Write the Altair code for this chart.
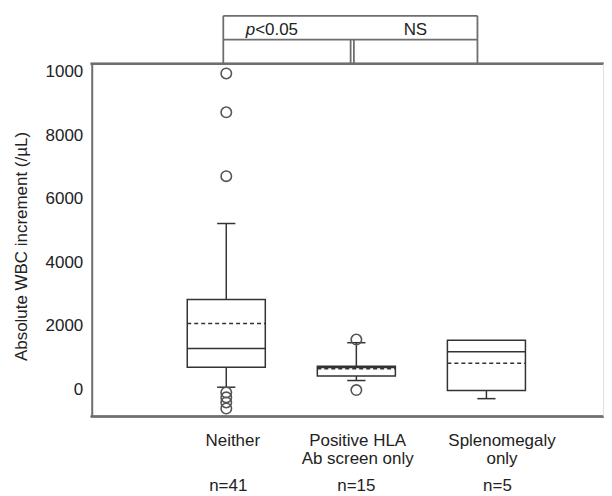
import altair as alt
import pandas as pd

# ---- data ----
groups = ["Neither", "Positive HLA Ab screen only", "Splenomegaly only"]
positions = [1, 2, 3]
q1 = [700, 420, -30]
median = [1290, 690, 1185]
mean = [2075, 650, 820]
q3 = [2830, 730, 1550]
whisker_low = [70, 280, -290]
whisker_high = [5220, 1470, 1550]

outlier_pos = [1, 1, 1, 1, 1, 1, 1, 2, 2]
outlier_val = [9940, 8720, 6710, -95, -250, -410, -600, 1570, -20]

label_line1 = ["Neither", "Positive HLA", "Splenomegaly"]
label_line2 = ["", "Ab screen only", "only"]
n_labels = ["n=41", "n=15", "n=5"]

y_ticks = [0, 2000, 4000, 6000, 8000, 10000]
comparisons = ["p<0.05", "NS"]

# ---- styling / layout constants ----
W, H = 514, 354
FONT = "Liberation Sans"
FS = 17
INK = "#333333"
FRAME = "#6e6e6e"
X_DOMAIN = [-0.0345, 3.904]
Y_DOMAIN = [-850, 10250]
HALF = 0.30      # half box width (x units)
CAP = 0.07       # half cap width (x units)

boxes = pd.DataFrame({
    "group": groups, "pos": positions, "q1": q1, "median": median,
    "mean": mean, "q3": q3, "lo": whisker_low, "hi": whisker_high,
})
outliers = pd.DataFrame({"pos": outlier_pos, "value": outlier_val})
labels = pd.DataFrame({
    "pos": positions, "l1": label_line1, "l2": label_line2, "n": n_labels,
    "dx1": [0.05, 0.01, 0.12], "dxn": [0.015, 0.0, 0.085],
})

xs = alt.Scale(domain=X_DOMAIN, nice=False, zero=False)
ys = alt.Scale(domain=Y_DOMAIN, nice=False, zero=False)

base = alt.Chart(boxes).transform_calculate(
    left=f"datum.pos - {HALF}", right=f"datum.pos + {HALF}",
    cl=f"datum.pos - {CAP}", cr=f"datum.pos + {CAP}",
)

yaxis = alt.Axis(
    values=y_ticks, format="d",
    labelExpr="datum.value == 10000 ? '1000' : datum.label",
    ticks=False, grid=False, domain=True, domainColor=FRAME, domainWidth=2,
    labelFont=FONT, labelFontSize=FS, labelColor="#222", labelPadding=9,
    title="Absolute WBC increment (/\u00b5L)", titleFont=FONT, titleFontSize=FS,
    titleFontWeight="normal", titleColor="#222", titleX=-70, titleY=183,
    titleAngle=-90, titleAlign="center", titleBaseline="middle",
)

whisk = base.mark_rule(color=INK, strokeWidth=1.5).encode(
    x=alt.X("pos:Q", scale=xs, axis=None),
    y=alt.Y("lo:Q", scale=ys, axis=yaxis), y2="hi:Q",
)
box = base.mark_rect(fill="white", stroke=INK, strokeWidth=1.5).encode(
    x=alt.X("left:Q", scale=xs), x2="right:Q",
    y=alt.Y("q1:Q", scale=ys), y2="q3:Q",
)
med = base.mark_rule(color=INK, strokeWidth=1.5).encode(
    x=alt.X("left:Q", scale=xs), x2="right:Q", y=alt.Y("median:Q", scale=ys),
)
mn = base.mark_rule(color=INK, strokeWidth=1.5, strokeDash=[4, 3]).encode(
    x=alt.X("left:Q", scale=xs), x2="right:Q", y=alt.Y("mean:Q", scale=ys),
)
cap_lo = base.mark_rule(color=INK, strokeWidth=1.5).encode(
    x=alt.X("cl:Q", scale=xs), x2="cr:Q", y=alt.Y("lo:Q", scale=ys),
)
cap_hi = base.transform_filter("datum.hi > datum.q3").mark_rule(color=INK, strokeWidth=1.5).encode(
    x=alt.X("cl:Q", scale=xs), x2="cr:Q", y=alt.Y("hi:Q", scale=ys),
)
pts = alt.Chart(outliers).mark_point(
    shape="circle", filled=False, size=110, stroke="#555", strokeWidth=1.6, opacity=1
).encode(x=alt.X("pos:Q", scale=xs), y=alt.Y("value:Q", scale=ys))

# frame lines (top, bottom, faint right)
frame_top = alt.Chart(boxes).mark_rule(color=FRAME, strokeWidth=2).encode(
    x=alt.value(-1), x2=alt.value(W + 8), y=alt.value(0))
frame_bot = alt.Chart(boxes).mark_rule(color=FRAME, strokeWidth=2).encode(
    x=alt.value(-1), x2=alt.value(W + 8), y=alt.value(H))
frame_right = alt.Chart(boxes).mark_rule(color="#dddddd", strokeWidth=1).encode(
    x=alt.value(W), y=alt.value(0), y2=alt.value(H))

# x labels
lab_kw = dict(font=FONT, fontSize=FS, color="#222", align="center", baseline="middle")
lab1 = alt.Chart(labels).transform_calculate(lx="datum.pos + datum.dx1").mark_text(**lab_kw).encode(
    x=alt.X("lx:Q", scale=xs), y=alt.value(378.5), text="l1:N")
lab2 = alt.Chart(labels).transform_calculate(lx="datum.pos + datum.dx1").mark_text(**lab_kw).encode(
    x=alt.X("lx:Q", scale=xs), y=alt.value(397), text="l2:N")
labn = alt.Chart(labels).transform_calculate(lx="datum.pos + datum.dxn").mark_text(**lab_kw).encode(
    x=alt.X("lx:Q", scale=xs), y=alt.value(424), text="n:N")

# significance brackets
br_v = pd.DataFrame({"bx": [0.977, 2.931]})
br_mid = pd.DataFrame({"bx": [1.956, 1.981]})
br_h = pd.DataFrame({"a": [0.977], "b": [2.931]})
bk = dict(color=FRAME, strokeWidth=1.8)
brk_v = alt.Chart(br_v).mark_rule(**bk).encode(
    x=alt.X("bx:Q", scale=xs), y=alt.value(-48), y2=alt.value(0))
brk_mid = alt.Chart(br_mid).mark_rule(**bk).encode(
    x=alt.X("bx:Q", scale=xs), y=alt.value(-24), y2=alt.value(0))
brk_h1 = alt.Chart(br_h).mark_rule(**bk).encode(
    x=alt.X("a:Q", scale=xs), x2="b:Q", y=alt.value(-48))
brk_h2 = alt.Chart(br_h).mark_rule(**bk).encode(
    x=alt.X("a:Q", scale=xs), x2="b:Q", y=alt.value(-24))

cmp = pd.DataFrame({"tx": [1.222, 2.454], "t": comparisons})
p_it = alt.Chart(cmp.iloc[[0]]).mark_text(
    font=FONT, fontSize=FS, fontStyle="italic", color="#222", align="right", baseline="middle"
).encode(x=alt.X("tx:Q", scale=xs), y=alt.value(-34), text=alt.value("p"))
p_rest = alt.Chart(cmp.iloc[[0]]).mark_text(
    font=FONT, fontSize=FS, color="#222", align="left", baseline="middle"
).encode(x=alt.X("tx:Q", scale=xs), y=alt.value(-34), text=alt.value("<0.05"))
ns = alt.Chart(cmp.iloc[[1]]).mark_text(
    font=FONT, fontSize=FS, color="#222", align="center", baseline="middle"
).encode(x=alt.X("tx:Q", scale=xs), y=alt.value(-34), text="t:N")

chart = alt.layer(
    whisk, box, med, mn, cap_lo, cap_hi, pts,
    frame_top, frame_bot, frame_right,
    lab1, lab2, labn,
    brk_v, brk_mid, brk_h1, brk_h2, p_it, p_rest, ns,
).properties(
    width=W, height=H,
    autosize=alt.AutoSizeParams(type="none"),
    padding={"left": 84, "top": 55, "right": 0, "bottom": 80},
).configure_view(stroke=None)

chart.save("out.html", embed_options={"renderer": "svg", "actions": False})
